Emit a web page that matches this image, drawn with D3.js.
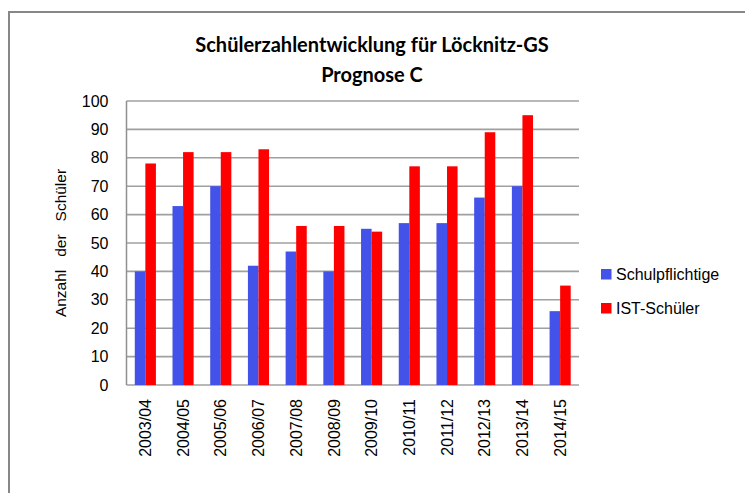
<!DOCTYPE html>
<html><head><meta charset="utf-8">
<script src="https://cdn.jsdelivr.net/npm/d3@7"></script>
<style>body{margin:0;background:#fff}svg{display:block}</style>
</head><body>
<script>
const categories = ["2003/04","2004/05","2005/06","2006/07","2007/08","2008/09","2009/10","2010/11","2011/12","2012/13","2013/14","2014/15"];
const schulpflichtige = [40,63,70,42,47,40,55,57,57,66,70,26];
const istSchueler = [78,82,82,83,56,56,54,77,77,89,95,35];
const yTicks = [0,10,20,30,40,50,60,70,80,90,100];
const seriesNames = ["Schulpflichtige","IST-Schüler"];
const seriesColors = ["#4352E8","#FF0000"];

(function(){
const W=745,H=493;
const svg=d3.select("body").append("svg").attr("width",W).attr("height",H);
svg.append("rect").attr("x",9).attr("y",12).attr("width",W).attr("height",H).attr("fill","#fff").attr("stroke","#878787").attr("stroke-width",2);

const pL=126.5,pR=579,pT=101,pB=385;
const x=d3.scaleBand().domain(categories).range([pL,pR]).paddingInner(0.44).paddingOuter(0.22);
const y=d3.scaleLinear().domain([0,100]).range([pB,pT]);
const font="'Liberation Sans', Arial, sans-serif";
const fs=16;

// grid
svg.append("g").selectAll("line").data(yTicks).join("line")
 .attr("x1",pL).attr("x2",pR).attr("y1",d=>y(d)).attr("y2",d=>y(d))
 .attr("stroke","#a0a0a0").attr("stroke-width",1.6);
svg.append("line").attr("x1",pL).attr("x2",pL).attr("y1",pT).attr("y2",pB).attr("stroke","#909090").attr("stroke-width",1.5);

const x1=d3.scaleBand().domain([0,1]).range([0,x.bandwidth()]);
const data=categories.map((c,i)=>({c,v:[schulpflichtige[i],istSchueler[i]]}));
const g=svg.append("g").selectAll("g").data(data).join("g").attr("transform",d=>`translate(${x(d.c)},0)`);
g.selectAll("rect").data(d=>d.v.map((v,k)=>({v,k}))).join("rect")
 .attr("x",d=>x1(d.k)).attr("width",x1.bandwidth()).attr("y",d=>y(d.v)).attr("height",d=>pB-y(d.v))
 .attr("fill",d=>seriesColors[d.k]);

// y axis labels
const ya=svg.append("g").attr("transform",`translate(${pL},0)`).call(d3.axisLeft(y).tickValues(yTicks).tickSize(0).tickPadding(18));
ya.select(".domain").remove();
ya.selectAll("text").attr("font-family",font).attr("font-size",fs).attr("fill","#000");

// x axis labels
const xa=svg.append("g").attr("transform",`translate(0,${pB})`).call(d3.axisBottom(x).tickSize(0));
xa.select(".domain").remove();
xa.selectAll("text").attr("font-family",font).attr("font-size",fs).attr("fill","#000")
 .attr("transform","rotate(-90)").attr("text-anchor","end").attr("dx","-14").attr("dy","0.35em").attr("x",0).attr("y",0);

// y title
svg.append("text").attr("transform","translate(66,243) rotate(-90)").attr("text-anchor","middle")
 .attr("font-family",font).attr("font-size",15.5).style("white-space","pre")
 .text("Anzahl   der   Schüler");

// title
const tf="Lato, 'Open Sans', sans-serif";
svg.append("text").attr("x",372).attr("y",52).attr("text-anchor","middle").attr("font-family",tf).attr("font-weight","bold").attr("font-size",20).text("Schülerzahlentwicklung für Löcknitz-GS");
svg.append("text").attr("x",372).attr("y",82).attr("text-anchor","middle").attr("font-family",tf).attr("font-weight","bold").attr("font-size",20).text("Prognose C");

// legend
const lg=svg.append("g").selectAll("g").data(seriesNames).join("g").attr("transform",(d,i)=>`translate(601,${269+i*34})`);
lg.append("rect").attr("width",10.5).attr("height",10.5).attr("fill",(d,i)=>seriesColors[i]);
lg.append("text").attr("x",15).attr("y",5.5).attr("dy","0.35em").attr("font-family",font).attr("font-size",fs).text(d=>d);
})();
</script>
</body></html>
